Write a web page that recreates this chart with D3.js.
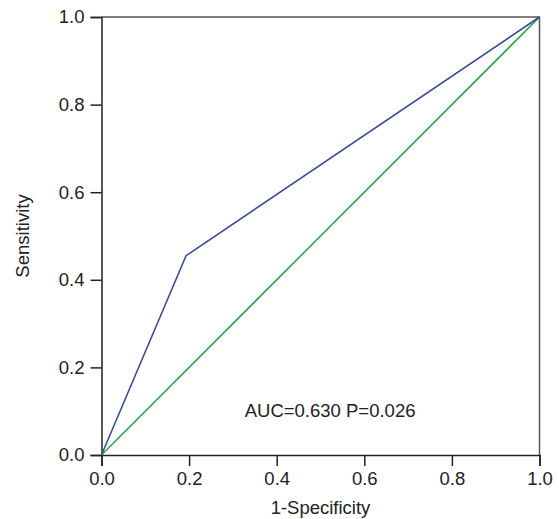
<!DOCTYPE html>
<html>
<head>
<meta charset="utf-8">
<script src="https://cdn.jsdelivr.net/npm/d3@7"></script>
<style>
  body { margin: 0; background: #fff; }
  text { font-family: "Liberation Sans", Arial, sans-serif; fill: #222; }
</style>
</head>
<body>
<div id="roc_chart"></div>
<script>
// ROC curve points (1-specificity, sensitivity)
const rocFpr = [0, 0.193, 1];
const rocTpr = [0, 0.455, 1];
const refLine = [0, 1];
const tickValues = [0, 0.2, 0.4, 0.6, 0.8, 1.0];
const aucLabel = "AUC=0.630 P=0.026";

const W = 559, H = 519;
const margin = { top: 17, right: 19.5, bottom: 64, left: 101.5 };
const width = W - margin.left - margin.right,
      height = H - margin.top - margin.bottom;
const fontSize = "18.5px";

const svg = d3.select("#roc_chart")
  .append("svg")
  .attr("width", W)
  .attr("height", H)
  .append("g")
  .attr("transform", `translate(${margin.left},${margin.top})`);

const x = d3.scaleLinear().domain([0, 1]).range([0, width]);
const y = d3.scaleLinear().domain([0, 1]).range([height, 0]);

// box top and right
svg.append("path")
  .attr("d", `M0,0H${width}V${height}`)
  .attr("fill", "none")
  .attr("stroke", "#555")
  .attr("stroke-width", 1.5);

// axes
const xAxis = svg.append("g")
  .attr("transform", `translate(0,${height})`)
  .call(d3.axisBottom(x).tickValues(tickValues).tickFormat(d3.format(".1f")).tickSizeOuter(0).tickSize(11).tickPadding(6));
const yAxis = svg.append("g")
  .call(d3.axisLeft(y).tickValues(tickValues).tickFormat(d3.format(".1f")).tickSizeOuter(0).tickSize(11).tickPadding(6));

[xAxis, yAxis].forEach(a => {
  a.selectAll("path, line").attr("stroke", "#222").attr("stroke-width", 1.5);
  a.selectAll("text").style("font-size", fontSize).attr("fill", "#222");
  a.select(".domain").attr("stroke", "#222");
});

// reference diagonal
svg.append("line")
  .attr("x1", x(refLine[0])).attr("y1", y(refLine[0]))
  .attr("x2", x(refLine[1])).attr("y2", y(refLine[1]))
  .attr("stroke", "#2ca64a")
  .attr("stroke-width", 1.6);

// ROC curve
const line = d3.line().x(d => x(d[0])).y(d => y(d[1]));
svg.append("path")
  .datum(rocFpr.map((f, i) => [f, rocTpr[i]]))
  .attr("d", line)
  .attr("fill", "none")
  .attr("stroke", "#3b4c9b")
  .attr("stroke-width", 1.6);

// AUC annotation
svg.append("text")
  .attr("x", x(0.327))
  .attr("y", y(0.087))
  .style("font-size", fontSize)
  .text(aucLabel);

// axis titles
svg.append("text")
  .attr("x", width / 2)
  .attr("y", height + 59)
  .attr("text-anchor", "middle")
  .style("font-size", fontSize)
  .text("1-Specificity");

svg.append("text")
  .attr("transform", `translate(${-73},${height / 2}) rotate(-90)`)
  .attr("text-anchor", "middle")
  .style("font-size", fontSize)
  .text("Sensitivity");
</script>
</body>
</html>
